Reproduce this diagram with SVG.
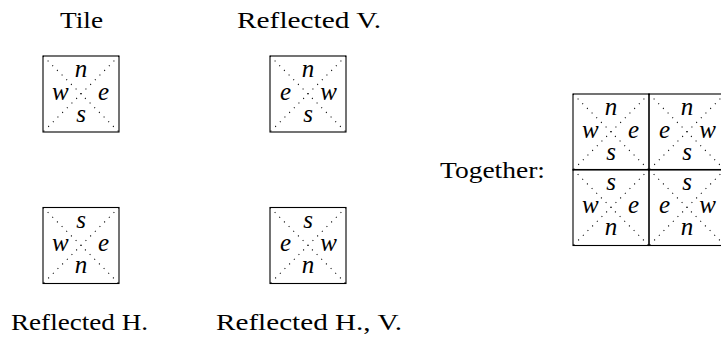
<svg xmlns="http://www.w3.org/2000/svg" width="721" height="338" viewBox="0 0 721 338">
<style>
.bg{fill:#fff}
.box{fill:none;stroke:#000;stroke-width:1.1}
.dg{stroke:#111;stroke-width:1.1;stroke-dasharray:1.1 5.5;fill:none}
.lbl{font-family:"Liberation Serif","Times New Roman",serif;font-size:24px;fill:#000}
.m{font-family:"Liberation Serif","Times New Roman",serif;font-style:italic;font-size:25px;fill:#000}
.c{text-anchor:middle}
.e{text-anchor:end}
</style>
<defs>
<g id="frame">
<path class="dg" d="M0,0 L76,76 M76,0 L0,76"/>
<rect class="box" x="0" y="0" width="76" height="76"/>
</g>
</defs>
<rect class="bg" x="0" y="0" width="721" height="338"/>

<g id="tile">
<use href="#frame" x="43" y="56"/>
<text class="m c" x="81" y="76.5">n</text>
<text class="m" x="52" y="99.5">w</text>
<text class="m e" x="109" y="99.5">e</text>
<text class="m c" x="81" y="121.5">s</text>
</g>

<g id="reflected-v">
<use href="#frame" x="270" y="56"/>
<text class="m c" x="308" y="76.5">n</text>
<text class="m" x="280" y="99.5">e</text>
<text class="m e" x="337" y="99.5">w</text>
<text class="m c" x="308" y="121.5">s</text>
</g>

<g id="reflected-h">
<use href="#frame" x="43" y="207.5"/>
<text class="m c" x="81" y="228">s</text>
<text class="m" x="52" y="251">w</text>
<text class="m e" x="109" y="251">e</text>
<text class="m c" x="81" y="273">n</text>
</g>

<g id="reflected-hv">
<use href="#frame" x="270" y="207.5"/>
<text class="m c" x="308" y="228">s</text>
<text class="m" x="280" y="251">e</text>
<text class="m e" x="337" y="251">w</text>
<text class="m c" x="308" y="273">n</text>
</g>

<g id="together">
<g id="cell-nw">
<use href="#frame" x="573" y="94"/>
<text class="m c" x="611" y="114.5">n</text>
<text class="m" x="582" y="137.5">w</text>
<text class="m e" x="639" y="137.5">e</text>
<text class="m c" x="611" y="159.5">s</text>
</g>
<g id="cell-ne">
<use href="#frame" x="649" y="94"/>
<text class="m c" x="687" y="114.5">n</text>
<text class="m" x="659" y="137.5">e</text>
<text class="m e" x="716" y="137.5">w</text>
<text class="m c" x="687" y="159.5">s</text>
</g>
<g id="cell-sw">
<use href="#frame" x="573" y="169.5"/>
<text class="m c" x="611" y="190">s</text>
<text class="m" x="582" y="213">w</text>
<text class="m e" x="639" y="213">e</text>
<text class="m c" x="611" y="235">n</text>
</g>
<g id="cell-se">
<use href="#frame" x="649" y="169.5"/>
<text class="m c" x="687" y="190">s</text>
<text class="m" x="659" y="213">e</text>
<text class="m e" x="716" y="213">w</text>
<text class="m c" x="687" y="235">n</text>
</g>
</g>

<g id="labels">
<text class="lbl" x="60" y="28" textLength="43" lengthAdjust="spacingAndGlyphs">Tile</text>
<text class="lbl" x="237" y="28" textLength="144" lengthAdjust="spacingAndGlyphs">Reflected V.</text>
<text class="lbl" x="11" y="330" textLength="137" lengthAdjust="spacingAndGlyphs">Reflected H.</text>
<text class="lbl" x="216" y="330" textLength="186" lengthAdjust="spacingAndGlyphs">Reflected H., V.</text>
<text class="lbl" x="440" y="178" textLength="105" lengthAdjust="spacingAndGlyphs">Together:</text>
</g>
</svg>
